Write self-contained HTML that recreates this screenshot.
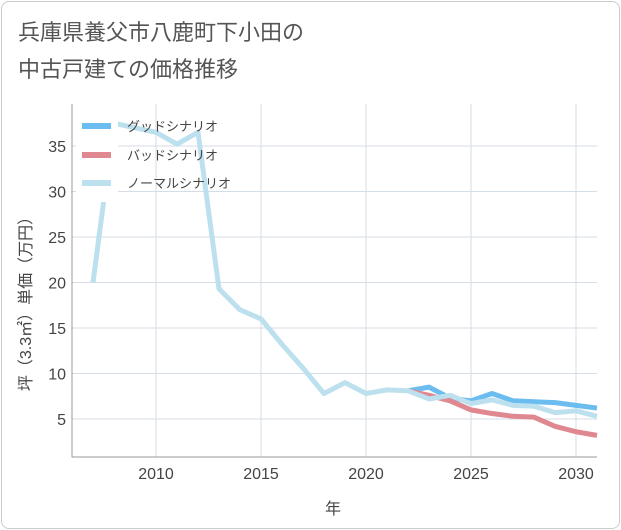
<!DOCTYPE html>
<html><head><meta charset="utf-8"><style>
body{margin:0;background:#fff;font-family:"Liberation Sans","Noto Sans CJK JP",sans-serif;}
.card{position:absolute;left:1px;top:1px;width:617px;height:526px;border:1px solid #ccc;border-radius:8px;background:#fff;}
.title{position:absolute;left:18px;top:14px;font-size:22px;line-height:37px;color:#555;}
</style></head><body>
<div class="card"></div>
<div class="title">兵庫県養父市八鹿町下小田の<br>中古戸建ての価格推移</div>
<svg id="c" width="621" height="530" style="position:absolute;left:0;top:0"></svg>
<script>
const years=[2007,2008,2009,2010,2011,2012,2013,2014,2015,2016,2017,2018,2019,2020,2021,2022,2023,2024,2025,2026,2027,2028,2029,2030,2031];
const normal=[20,37.5,37,36.5,35.2,36.5,19.3,17,16,13.2,10.6,7.8,9,7.8,8.2,8.1,7.2,7.6,6.7,7.1,6.5,6.4,5.7,5.9,5.3];
const goodYears=[2022,2023,2024,2025,2026,2027,2028,2029,2030,2031];
const good=[8.1,8.5,7.3,7.0,7.8,7.0,6.9,6.8,6.5,6.2];
const bad=[8.1,7.6,7.0,6.0,5.6,5.3,5.2,4.2,3.6,3.2];
const yTicks=[5,10,15,20,25,30,35];
const xTicks=[2010,2015,2020,2025,2030];
const NS="http://www.w3.org/2000/svg",svg=document.getElementById('c');
const L=72,R=597,T=104,B=457;
const xs=y=>156+(y-2010)*21, ys=v=>464.5-v*9.1;
function el(t,a,p){const e=document.createElementNS(NS,t);for(const k in a)e.setAttribute(k,a[k]);(p||svg).appendChild(e);return e;}
yTicks.forEach(v=>{const g=el('line',{x1:L,x2:R,y1:ys(v),y2:ys(v),stroke:'#d5dde6','stroke-width':1});

const t=el('text',{x:66,y:ys(v)+6,'text-anchor':'end','font-size':16,fill:'#444'});t.textContent=v;
});
xTicks.forEach(v=>{const g=el('line',{x1:xs(v),x2:xs(v),y1:T,y2:B,stroke:'#d5dde6','stroke-width':1});

const t=el('text',{x:xs(v),y:479,'text-anchor':'middle','font-size':16,fill:'#444'});t.textContent=v;
});
const ax=el('path',{d:`M${L} ${T}V${B}H${R}`,fill:'none',stroke:'#999','stroke-width':1});

function line(xv,yv,c,n){const p=el('polyline',{points:xv.map((x,i)=>xs(x)+','+ys(yv[i])).join(' '),fill:'none',stroke:c,'stroke-width':5,'stroke-linejoin':'round'});
}
line(goodYears,good,'#6bbcef','good-scenario-line');
line(goodYears,bad,'#e08890','bad-scenario-line');
line(years,normal,'#bde0ee','normal-scenario-line');
const lg=el('rect',{x:76,y:110,width:42,height:92,fill:'#fff'});
[['グッドシナリオ','#6bbcef',126],['バッドシナリオ','#e08890',155],['ノーマルシナリオ','#bde0ee',183]].forEach(([n,c,y])=>{
const s=el('line',{x1:82,x2:111,y1:y,y2:y,stroke:c,'stroke-width':6});
const t=el('text',{x:127,y:y+5,'font-size':13,fill:'#444'});t.textContent=n;});
const yt=el('text',{transform:'translate(31,300) rotate(-90)','text-anchor':'middle','font-size':16,fill:'#444'});yt.textContent='坪（3.3㎡）単価（万円）';

const xt=el('text',{x:333,y:514,'text-anchor':'middle','font-size':16,fill:'#444'});xt.textContent='年';

</script></body></html>
